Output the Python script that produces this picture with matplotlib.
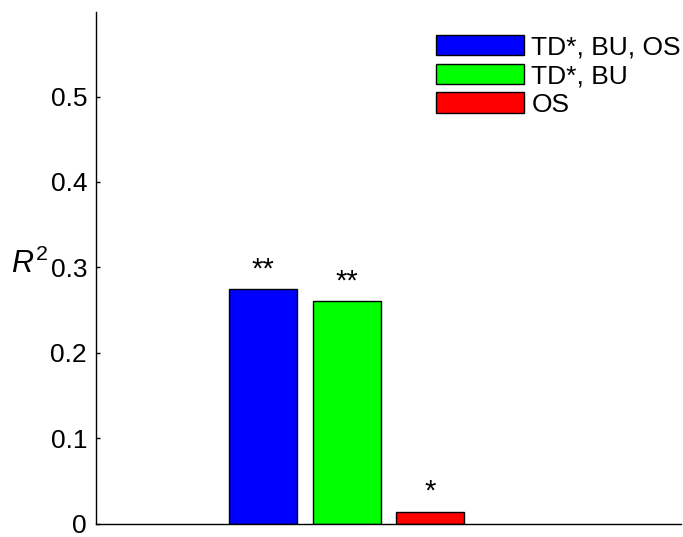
import matplotlib
matplotlib.use('Agg')
import matplotlib.pyplot as plt
import numpy as np

plt.rc('font', family=['Liberation Sans', 'DejaVu Sans'], size=19)
plt.rc('mathtext', fontset='custom', rm='Liberation Sans', it='Liberation Sans:italic')

labels = ['TD*, BU, OS', 'TD*, BU', 'OS']
r2 = [0.2745, 0.261, 0.014]
stars = ['**', '**', '*']
colors = ['#0000ff', '#00ff00', '#ff0000']
positions = [1, 2, 3]

fig = plt.figure(figsize=(6.83, 5.37), dpi=100)
ax = fig.add_axes([0.1406, 0.025, 0.8564, 0.9527])

for x, v, c, lab in zip(positions, r2, colors, labels):
    ax.bar(x, v, width=0.81, color=c, edgecolor='black', linewidth=1, label=lab)

for x, v, s in zip(positions, r2, stars):
    ax.annotate(s, (x, v), xytext=(0, 4), textcoords='offset points',
                ha='center', va='bottom', fontsize=21)

ax.set_xlim(-1, 6)
ax.set_ylim(0, 0.599)
ax.set_yticks([0, 0.1, 0.2, 0.3, 0.4, 0.5])
ax.set_yticklabels(['0', '0.1', '0.2', '0.3', '0.4', '0.5'])
ax.set_xticks([])
ax.tick_params(axis='y', direction='in', length=3, width=1, pad=6.5)
ax.spines['top'].set_visible(False)
ax.spines['right'].set_visible(False)
for sp in ['left', 'bottom']:
    ax.spines[sp].set_linewidth(1)

fig.text(0.016, 0.507, r'$R^2$', fontsize=22, va='center', ha='left')

ax.legend(loc='upper right', bbox_to_anchor=(1.0, 0.955), frameon=False,
          handlelength=3.3, handleheight=0.8, handletextpad=0.3,
          labelspacing=0.17, borderaxespad=0.0, borderpad=0.0)

fig.savefig('out.png', dpi=100)
